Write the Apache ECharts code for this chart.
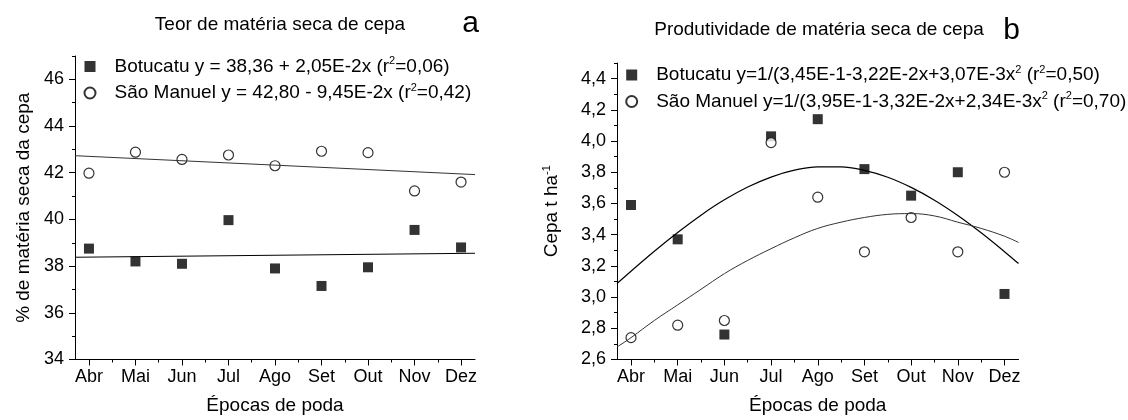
<!DOCTYPE html>
<html><head><meta charset="utf-8">
<script src="https://cdn.jsdelivr.net/npm/echarts@6/dist/echarts.min.js"></script>
<style>html,body{margin:0;padding:0;background:#fff}#c{width:1128px;height:420px}</style>
</head><body><div id="c"></div>
<script>
// ---------- data ----------
const months = ['Abr','Mai','Jun','Jul','Ago','Set','Out','Nov','Dez'];
const monthPos = [1,2,3,4,5,6,7,8,9];
const minorPos = [1.5,2.5,3.5,4.5,5.5,6.5,7.5,8.5];

// panel a : Teor de matéria seca de cepa (%)
const teorBotucatu  = [38.75, 38.20, 38.10, 39.97, 37.90, 37.15, 37.95, 39.55, 38.80];
const teorSaoManuel = [41.98, 42.88, 42.57, 42.76, 42.30, 42.92, 42.86, 41.22, 41.60];
const teorFitX = [0.7, 9.3];
const teorFitBotucatu  = [38.38, 38.55];
const teorFitSaoManuel = [42.73, 41.92];
const teorTicks = [34, 36, 38, 40, 42, 44, 46];
const teorMinorTicks = [35, 37, 39, 41, 43, 45, 47];

// panel b : Produtividade de matéria seca de cepa (t/ha)
const prodBotucatu  = [3.59, 3.37, 2.76, 4.03, 4.14, 3.82, 3.65, 3.80, 3.02];
const prodSaoManuel = [2.74, 2.82, 2.85, 3.99, 3.64, 3.29, 3.51, 3.29, 3.80];
const prodFitX = [0.7, 1, 1.5, 2, 2.5, 3, 3.5, 4, 4.5, 5, 5.5, 6, 6.5, 7, 7.5, 8, 8.5, 9, 9.3];
const prodFitBotucatu  = [3.087, 3.166, 3.294, 3.414, 3.525, 3.623, 3.705, 3.769, 3.813, 3.835, 3.835, 3.812, 3.768, 3.703, 3.621, 3.523, 3.412, 3.291, 3.215];
const prodFitSaoManuel = [2.68, 2.74, 2.85, 2.95, 3.05, 3.15, 3.235, 3.31, 3.38, 3.44, 3.48, 3.51, 3.53, 3.535, 3.52, 3.48, 3.44, 3.39, 3.35];
const prodTicks = [2.6, 2.8, 3.0, 3.2, 3.4, 3.6, 3.8, 4.0, 4.2, 4.4];
const prodMinorTicks = [2.7, 2.9, 3.1, 3.3, 3.5, 3.7, 3.9, 4.1, 4.3, 4.5];

const legendText = {
  botA: 'Botucatu y = 38,36 + 2,05E-2x (r{sup|2}=0,06)',
  smA:  'São Manuel y = 42,80 - 9,45E-2x (r{sup|2}=0,42)',
  botB: 'Botucatu y=1/(3,45E-1-3,22E-2x+3,07E-3x{sup|2} (r{sup|2}=0,50)',
  smB:  'São Manuel y=1/(3,95E-1-3,32E-2x+2,34E-3x{sup|2} (r{sup|2}=0,70)'
};

// ---------- chart ----------
const FF = '"Liberation Sans", Arial, Helvetica, sans-serif';
const pairs = (xs, ys) => xs.map((x, i) => [x, ys[i]]);
const supRich = {
  sup: {fontSize: 11, fontFamily: FF, color: '#000', verticalAlign: 'top', lineHeight: 12},
  sp: {width: 14, fontSize: 19, fontFamily: FF}
};
const axisLineStyle = {color: '#000', width: 1};

function xMajor(g) {
  return {
    type: 'value', gridIndex: g, position: 'bottom', min: 0.7, max: 9.3,
    axisLine: {show: true, onZero: false, lineStyle: axisLineStyle},
    splitLine: {show: false},
    axisTick: {show: true, length: 6, customValues: monthPos, lineStyle: axisLineStyle},
    axisLabel: {show: true, customValues: monthPos, formatter: v => months[Math.round(v) - 1],
      margin: 9, color: '#000', fontSize: 18, fontFamily: FF},
    name: 'Épocas de poda', nameLocation: 'middle', nameGap: 37, nameMoveOverlap: false,
    nameTextStyle: {color: '#000', fontSize: 19, fontFamily: FF}
  };
}
function xMinor(g) {
  return {
    type: 'value', gridIndex: g, position: 'bottom', min: 0.7, max: 9.3,
    axisLine: {show: false, onZero: false},
    splitLine: {show: false},
    axisTick: {show: true, length: 3, customValues: minorPos, lineStyle: axisLineStyle},
    axisLabel: {show: false}
  };
}
function yMajor(g, min, max, ticks, fmt, name, gap) {
  return {
    type: 'value', gridIndex: g, position: 'left', min: min, max: max,
    axisLine: {show: true, onZero: false, lineStyle: axisLineStyle},
    splitLine: {show: false},
    axisTick: {show: true, length: 6, customValues: ticks, lineStyle: axisLineStyle},
    axisLabel: {show: true, customValues: ticks, formatter: fmt, margin: 11,
      color: '#000', fontSize: 18, fontFamily: FF},
    name: name, nameLocation: 'middle', nameGap: gap, nameRotate: 90, nameMoveOverlap: false,
    nameTextStyle: {color: '#000', fontSize: 19, fontFamily: FF, lineHeight: 22, rich: supRich}
  };
}
function yMinor(g, min, max, ticks) {
  return {
    type: 'value', gridIndex: g, position: 'left', min: min, max: max,
    axisLine: {show: false, onZero: false},
    splitLine: {show: false},
    axisTick: {show: true, length: 3, customValues: ticks, lineStyle: axisLineStyle},
    axisLabel: {show: false}
  };
}
function legendFor(names, left, top) {
  return {
    orient: 'vertical', left: left, top: top, padding: 0,
    itemWidth: 11, itemHeight: 11, itemGap: 4.5, selectedMode: false,
    data: names,
    formatter: n => '{sp| }' + legendText[n],
    textStyle: {color: '#000', fontSize: 19, fontFamily: FF, lineHeight: 22, rich: supRich}
  };
}
const squareStyle = {color: '#000', borderColor: '#000', borderWidth: 0};
const circleStyle = {color: '#fff', borderColor: '#000', borderWidth: 1.2};

const chart = echarts.init(document.getElementById('c'), null, {renderer: 'canvas'});
chart.setOption({
  animation: false,
  backgroundColor: '#fff',
  grid: [
    {left: 75, right: 653, top: 56, bottom: 60.5, outerBoundsMode: 'none'},
    {left: 617, right: 109.5, top: 63, bottom: 60.5, outerBoundsMode: 'none'}
  ],
  xAxis: [xMajor(0), xMinor(0), xMajor(1), xMinor(1)],
  yAxis: [
    yMajor(0, 34, 47, teorTicks, v => String(v), '% de matéria seca da cepa', 40),
    yMinor(0, 34, 47, teorMinorTicks),
    yMajor(1, 2.6, 4.5, prodTicks, v => v.toFixed(1).replace('.', ','), 'Cepa t ha{sup|-1}', 54),
    yMinor(1, 2.6, 4.5, prodMinorTicks)
  ],
  legend: [legendFor(['botA', 'smA'], 83.5, 55.5), legendFor(['botB', 'smB'], 625.2, 64)],
  graphic: [
    {type: 'text', x: 280, y: 25, style: {text: 'Teor de matéria seca de cepa', fontSize: 19, fontFamily: FF, fill: '#000', align: 'center', verticalAlign: 'middle'}},
    {type: 'text', x: 470.7, y: 24.2, style: {text: 'a', fontSize: 30, fontFamily: FF, fill: '#000', align: 'center', verticalAlign: 'middle'}},
    {type: 'text', x: 819, y: 30, style: {text: 'Produtividade de matéria seca de cepa', fontSize: 19, fontFamily: FF, fill: '#000', align: 'center', verticalAlign: 'middle'}},
    {type: 'text', x: 1011.7, y: 31, style: {text: 'b', fontSize: 30, fontFamily: FF, fill: '#000', align: 'center', verticalAlign: 'middle'}}
  ],
  series: [
    {name: 'botA', type: 'scatter', xAxisIndex: 0, yAxisIndex: 0, symbol: 'rect', symbolSize: 10,
      itemStyle: squareStyle, data: pairs(monthPos, teorBotucatu), z: 2},
    {name: 'smA', type: 'scatter', xAxisIndex: 0, yAxisIndex: 0, symbol: 'circle', symbolSize: 10,
      itemStyle: circleStyle, data: pairs(monthPos, teorSaoManuel), z: 2},
    {name: 'fitBotA', type: 'line', xAxisIndex: 0, yAxisIndex: 0, symbol: 'none', silent: true,
      lineStyle: {color: '#000', width: 1.2}, data: pairs(teorFitX, teorFitBotucatu), z: 3},
    {name: 'fitSmA', type: 'line', xAxisIndex: 0, yAxisIndex: 0, symbol: 'none', silent: true,
      lineStyle: {color: '#333', width: 1}, data: pairs(teorFitX, teorFitSaoManuel), z: 3},

    {name: 'botB', type: 'scatter', xAxisIndex: 2, yAxisIndex: 2, symbol: 'rect', symbolSize: 10,
      itemStyle: squareStyle, data: pairs(monthPos, prodBotucatu), z: 2},
    {name: 'smB', type: 'scatter', xAxisIndex: 2, yAxisIndex: 2, symbol: 'circle', symbolSize: 10,
      itemStyle: circleStyle, data: pairs(monthPos, prodSaoManuel), z: 2},
    {name: 'fitBotB', type: 'line', xAxisIndex: 2, yAxisIndex: 2, symbol: 'none', silent: true, smooth: 0.4,
      lineStyle: {color: '#000', width: 1.2}, data: pairs(prodFitX, prodFitBotucatu), z: 3},
    {name: 'fitSmB', type: 'line', xAxisIndex: 2, yAxisIndex: 2, symbol: 'none', silent: true, smooth: 0.4,
      lineStyle: {color: '#333', width: 1}, data: pairs(prodFitX, prodFitSaoManuel), z: 3}
  ]
});
</script>
</body></html>
